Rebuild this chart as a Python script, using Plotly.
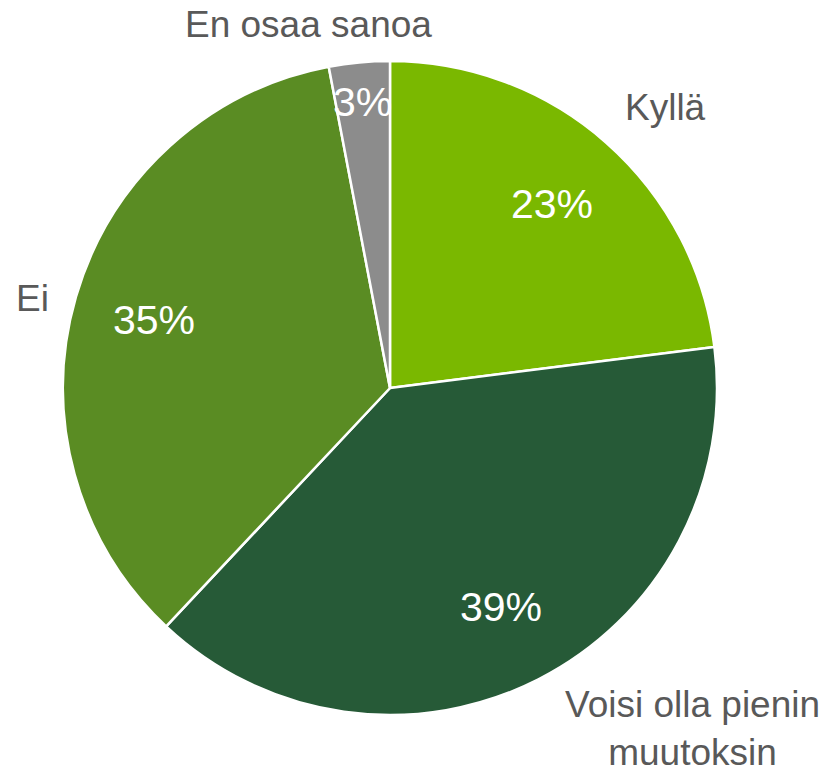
import math
import plotly.graph_objects as go

categories = ["Kyllä", "Voisi olla pienin<br>muutoksin", "Ei", "En osaa sanoa"]
values = [23, 39, 35, 3]
colors = ["#7AB800", "#265A37", "#5A8C23", "#8C8C8C"]

W, H = 828, 775
CX, CY, R = 390, 388, 327  # pie centre / radius in pixels (layout)

fig = go.Figure(go.Pie(
    labels=categories,
    values=values,
    sort=False,
    direction="clockwise",
    rotation=0,
    marker=dict(colors=colors, line=dict(color="white", width=2.5)),
    textinfo="none",
    domain=dict(x=[(CX - R) / W, (CX + R) / W], y=[(H - CY - R) / H, (H - CY + R) / H]),
    showlegend=False,
    hoverinfo="label+percent",
))

# percentage labels placed at each slice's mid-angle (computed from the values)
total = sum(values)
cum = 0
pct_font = dict(family="Liberation Sans, Arial", size=41, color="white")
for v in values:
    mid = (cum + v / 2) / total * 2 * math.pi
    cum += v
    f = 0.88 if v / total < 0.05 else 0.75
    px = CX + f * R * math.sin(mid)
    py = CY - f * R * math.cos(mid)
    fig.add_annotation(x=px / W, y=1 - py / H, xref="paper", yref="paper",
                       text=f"{v}%", showarrow=False, font=pct_font,
                       xanchor="center", yanchor="middle")

label_font = dict(family="Liberation Sans, Arial", size=37, color="#595959")
# (x, y, yanchor) in pixels from top-left
ann_pos = [(665, 107, "middle"), (692, 774, "bottom"), (32, 298, "middle"), (308, 25, "middle")]
for cat, (px, py, ya) in zip(categories, ann_pos):
    fig.add_annotation(x=px / W, y=1 - py / H, xref="paper", yref="paper",
                       text=cat, showarrow=False, font=label_font,
                       xanchor="center", yanchor=ya, align="center",
                       borderpad=0)

fig.update_layout(width=W, height=H, margin=dict(l=0, r=0, t=0, b=0),
                  paper_bgcolor="white", plot_bgcolor="white")
fig.write_html("out.html", config={"displayModeBar": False},
               post_script="document.body.style.margin='0';")
